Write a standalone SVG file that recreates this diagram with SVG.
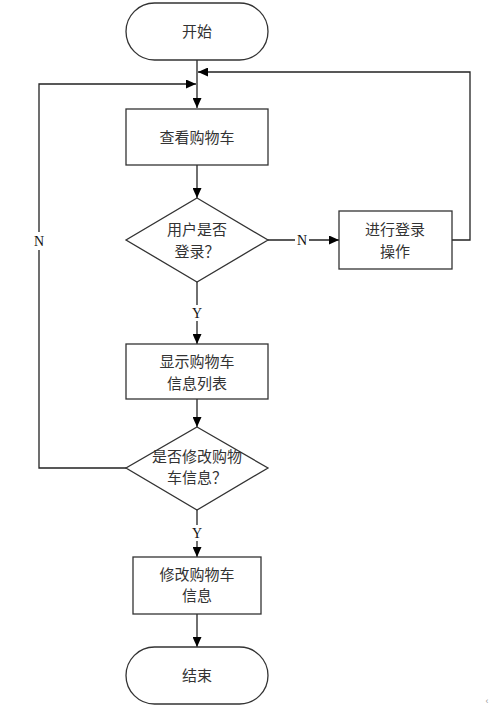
<svg xmlns="http://www.w3.org/2000/svg" width="490" height="712" viewBox="0 0 490 712">
<defs>
<marker id="ah" markerUnits="userSpaceOnUse" markerWidth="11" markerHeight="9" refX="10" refY="4.5" orient="auto">
<path d="M0,0 L10,4.5 L0,9 z" fill="#000"/>
</marker>
<style>
.shape{fill:#fff;stroke:#333;stroke-width:1.3}
.t{font-family:"Liberation Serif","Noto Sans CJK SC",serif;font-size:15px;fill:#333;text-anchor:middle}
.lbl{font-family:"Liberation Serif","Noto Sans CJK SC",serif;font-size:14px;fill:#111;text-anchor:middle}
.c{fill:none;stroke:#222;stroke-width:1.3}
.bg{fill:#fff}
</style>
</defs>
<rect width="490" height="712" fill="#fff"/>
<g id="connectors">
<path class="c" d="M197,60 V108" marker-end="url(#ah)"/>
<path class="c" d="M452,240 H470 V72 H198" marker-end="url(#ah)"/>
<path class="c" d="M126,468 H39 V84 H196" marker-end="url(#ah)"/>
<path class="c" d="M197,165 V198" marker-end="url(#ah)"/>
<path class="c" d="M268,240 H339" marker-end="url(#ah)"/>
<path class="c" d="M197,282 V344" marker-end="url(#ah)"/>
<path class="c" d="M197,399 V427" marker-end="url(#ah)"/>
<path class="c" d="M197,510 V557" marker-end="url(#ah)"/>
<path class="c" d="M197,614 V647" marker-end="url(#ah)"/>
<rect class="bg" x="32" y="232" width="14" height="18"/>
<text class="lbl" x="39" y="246">N</text>
<rect class="bg" x="295" y="232" width="14" height="16"/>
<text class="lbl" x="302" y="245">N</text>
<rect class="bg" x="190" y="305" width="14" height="16"/>
<text class="lbl" x="197" y="318">Y</text>
<rect class="bg" x="190" y="525" width="14" height="16"/>
<text class="lbl" x="197" y="538">Y</text>
</g>
<g id="start">
<rect class="shape" x="126" y="3" width="142" height="57" rx="28.5" ry="28.5"/>
<text class="t" x="197" y="37">开始</text>
</g>
<g id="viewCart">
<rect class="shape" x="126" y="109" width="142" height="56"/>
<text class="t" x="197" y="143">查看购物车</text>
</g>
<g id="isLoggedIn">
<polygon class="shape" points="197,198 268,240 197,282 126,240"/>
<text class="t" x="197" y="235">用户是否</text>
<text class="t" x="197" y="257">登录？</text>
</g>
<g id="login">
<rect class="shape" x="339" y="211" width="113" height="58"/>
<text class="t" x="395" y="235">进行登录</text>
<text class="t" x="395" y="257">操作</text>
</g>
<g id="showCart">
<rect class="shape" x="126" y="344" width="142" height="55"/>
<text class="t" x="197" y="367">显示购物车</text>
<text class="t" x="197" y="389">信息列表</text>
</g>
<g id="modifyQ">
<polygon class="shape" points="197,427 268,468 197,510 126,468"/>
<text class="t" x="197" y="462">是否修改购物</text>
<text class="t" x="197" y="483">车信息？</text>
</g>
<g id="modify">
<rect class="shape" x="133" y="557" width="128" height="57"/>
<text class="t" x="197" y="580">修改购物车</text>
<text class="t" x="197" y="601">信息</text>
</g>
<g id="end">
<rect class="shape" x="126" y="647" width="142" height="57" rx="28.5" ry="28.5"/>
<text class="t" x="197" y="681">结束</text>
</g>
<text x="487" y="704" style="font-family:'Liberation Sans',sans-serif;font-size:9px;fill:#999;text-anchor:middle">‹</text>
</svg>
